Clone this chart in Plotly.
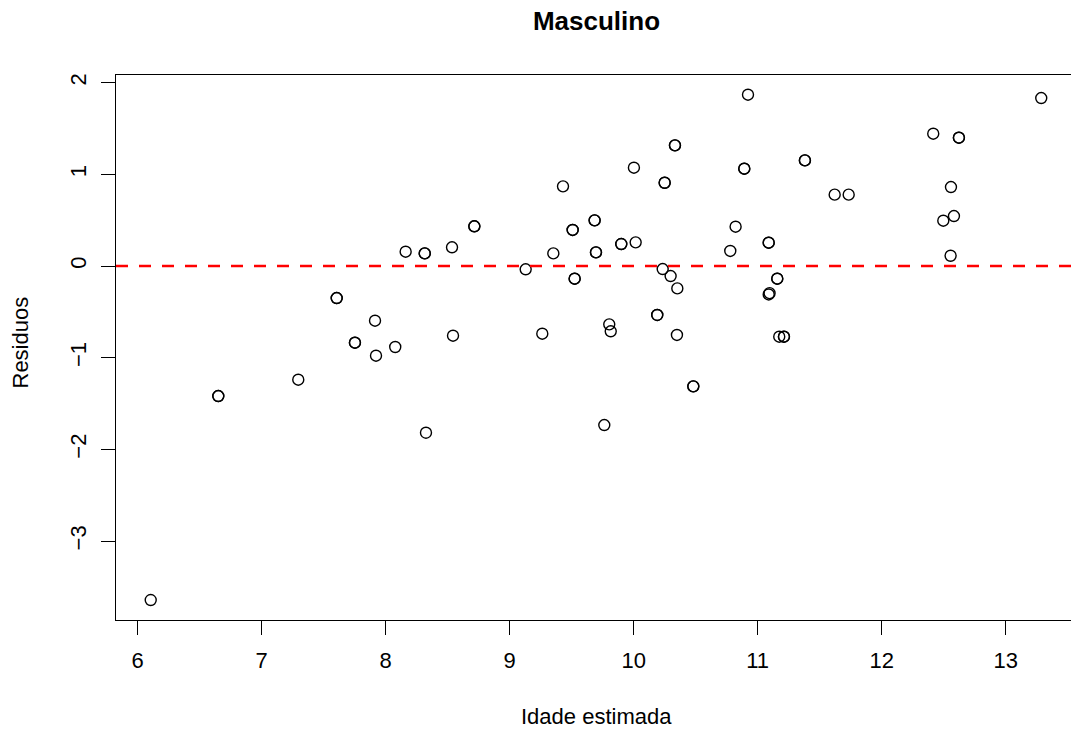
import plotly.graph_objects as go

# Fitted values (Idade estimada) and residuals (Residuos)
idade_estimada = [
    6.105, 6.650, 6.650, 7.295, 7.605, 7.605, 7.752, 7.752, 7.914, 7.922,
    8.077, 8.161, 8.315, 8.315, 8.325, 8.535, 8.543, 8.715, 8.715, 9.129,
    9.263, 9.352, 9.430, 9.508, 9.508, 9.524, 9.524, 9.685, 9.685, 9.696,
    9.696, 9.763, 9.803, 9.815, 9.900, 9.900, 10.002, 10.016, 10.190, 10.190,
    10.234, 10.250, 10.250, 10.298, 10.333, 10.333, 10.349, 10.352, 10.481, 10.481,
    10.779, 10.822, 10.892, 10.892, 10.922, 11.089, 11.089, 11.089, 11.096, 11.158,
    11.158, 11.174, 11.212, 11.212, 11.381, 11.381, 11.621, 11.734, 12.416, 12.497,
    12.556, 12.559, 12.583, 12.623, 12.623, 13.287,
]
residuos = [
    -3.642, -1.418, -1.418, -1.240, -0.349, -0.349, -0.836, -0.836, -0.596, -0.978,
    -0.883, 0.156, 0.138, 0.138, -1.818, 0.204, -0.760, 0.433, 0.433, -0.036,
    -0.738, 0.138, 0.869, 0.393, 0.393, -0.138, -0.138, 0.498, 0.498, 0.149,
    0.149, -1.734, -0.636, -0.712, 0.240, 0.240, 1.072, 0.258, -0.534, -0.534,
    -0.033, 0.908, 0.908, -0.109, 1.316, 1.316, -0.752, -0.244, -1.312, -1.312,
    0.164, 0.429, 1.061, 1.061, 1.868, 0.254, 0.254, -0.310, -0.296, -0.138,
    -0.138, -0.771, -0.771, -0.771, 1.152, 1.152, 0.778, 0.778, 1.443, 0.494,
    0.112, 0.861, 0.545, 1.399, 1.399, 1.832,
]

x_ticks = [6, 7, 8, 9, 10, 11, 12, 13]
y_ticks = [-3, -2, -1, 0, 1, 2]

FONT = "Liberation Sans, Arial, Helvetica, sans-serif"

fig = go.Figure()
fig.add_trace(go.Scatter(
    x=idade_estimada, y=residuos, mode="markers",
    marker=dict(symbol="circle-open", size=11, color="black",
                line=dict(width=1.4, color="black")),
    showlegend=False, hoverinfo="x+y",
))

fig.add_hline(y=0, line=dict(color="#ff0000", width=2.6, dash="12px,11px"))

fig.update_layout(
    width=1071, height=733,
    margin=dict(l=116, r=0, t=75, b=113),
    paper_bgcolor="white", plot_bgcolor="white",
    font=dict(family=FONT, size=22, color="black"),
    title=dict(text="<b>Masculino</b>", x=596.5 / 1071, xref="container",
               xanchor="center", y=1 - 21 / 733, yref="container", yanchor="middle",
               font=dict(family=FONT, size=26, color="black")),
    xaxis=dict(range=[5.825, 13.527], tickvals=x_ticks, ticktext=[str(v) for v in x_ticks],
               showgrid=False, zeroline=False, showline=True, mirror=True,
               linecolor="black", linewidth=1.2, ticks="outside", ticklen=14,
               tickwidth=1.2, tickcolor="black", ticklabelstandoff=6,
               tickfont=dict(family=FONT, size=22, color="black")),
    yaxis=dict(range=[-3.860, 2.083], tickvals=y_ticks,
               ticktext=["\u22123", "\u22122", "\u22121", "0", "1", "2"],
               showgrid=False, zeroline=False, showline=True, mirror=False,
               linecolor="black", linewidth=1.2, ticks="outside", ticklen=14,
               tickwidth=1.2, tickcolor="black", tickangle=-90, ticklabelstandoff=6,
               tickfont=dict(family=FONT, size=22, color="black")),
    annotations=[
        dict(text="Idade estimada", xref="paper", yref="paper",
             x=(596 - 116) / 955, y=-(716 - 620) / 545, xanchor="center", yanchor="middle",
             showarrow=False, font=dict(family=FONT, size=22, color="black")),
        dict(text="Residuos", xref="paper", yref="paper", textangle=-90,
             x=(20 - 116) / 955, y=(620 - 342.5) / 545, xanchor="center", yanchor="middle",
             showarrow=False, font=dict(family=FONT, size=22, color="black")),
    ],
)

fig.write_html("out.html")
